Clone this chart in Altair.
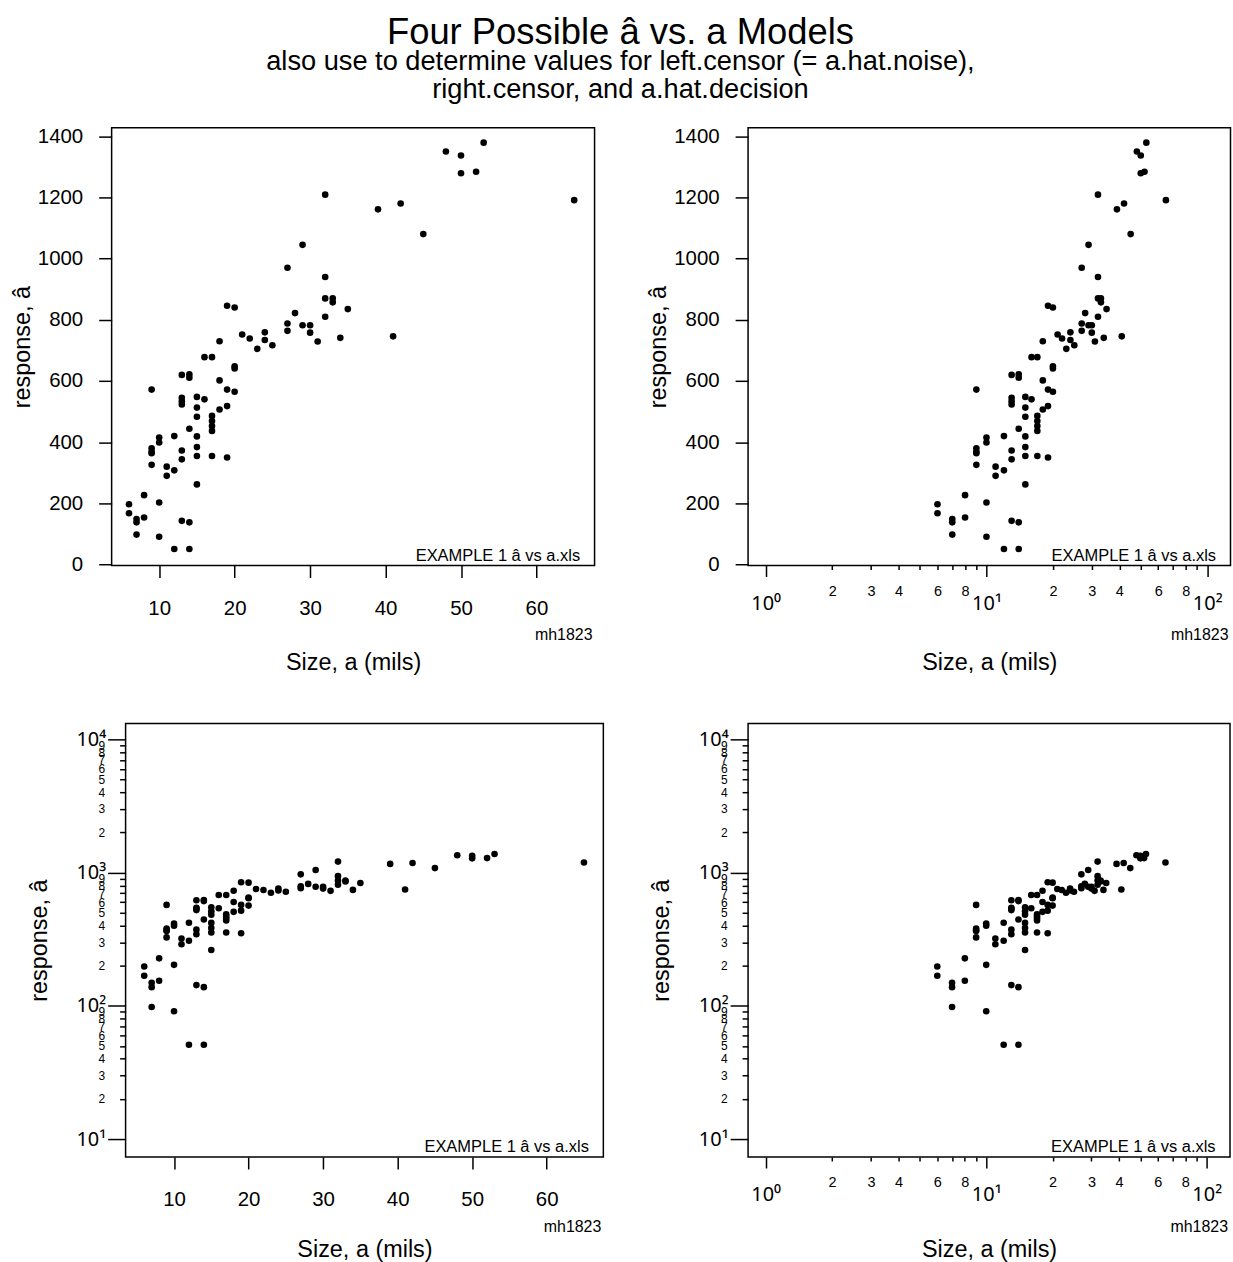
import altair as alt
import pandas as pd

# ---------------- data ----------------
SIZE_MILS = [6, 6, 7, 7, 7, 8, 8, 9, 9, 9, 9, 9, 10, 10, 10, 10, 11, 11, 12, 12, 12,
             13, 14, 14, 13, 13, 13, 13, 13, 13, 14, 14, 14, 15, 16, 15, 15, 15, 15,
             15, 15, 16, 17, 17, 17, 17, 17, 17, 18, 18, 18, 19, 20, 20, 20, 19, 20,
             19, 19, 21, 22, 23, 24, 24, 25, 27, 27, 27, 28, 29, 29, 30, 30, 31, 32,
             32, 32, 33, 33, 32, 34, 35, 39, 41, 42, 45, 48, 50, 50, 52, 53, 65]
RESPONSE = [197, 168, 149, 138, 98, 227, 154, 572, 380, 369, 364, 326, 415, 399, 203,
            91, 320, 290, 420, 308, 51, 620, 622, 611, 545, 534, 523, 373, 344, 143,
            138, 51, 444, 548, 540, 513, 483, 419, 384, 355, 262, 678, 678, 486, 469,
            453, 437, 355, 730, 602, 507, 846, 840, 648, 641, 572, 565, 518, 350, 752,
            739, 705, 759, 734, 717, 970, 788, 764, 822, 1045, 782, 782, 758, 729, 1209,
            940, 870, 870, 857, 810, 741, 835, 1161, 746, 1180, 1080, 1350, 1337, 1279,
            1284, 1379, 1191]

TITLE = "Four Possible â vs. a Models"
SUBTITLE = ["also use to determine values for left.censor (= a.hat.noise),",
            "right.censor, and a.hat.decision"]
X_TITLE = "Size, a (mils)"
Y_TITLE = "response, â"
NOTE_FILE = "EXAMPLE 1 â vs a.xls"
NOTE_ID = "mh1823"

LIN_X_TICKS = [10, 20, 30, 40, 50, 60]
LIN_Y_TICKS = [0, 200, 400, 600, 800, 1000, 1200, 1400]
LOG_X_MAJOR = [1, 10, 100]
LOG_X_MINOR = [2, 3, 4, 5, 6, 7, 8, 9, 20, 30, 40, 50, 60, 70, 80, 90]
LOG_X_MINOR_LABELED = [2, 3, 4, 6, 8, 20, 30, 40, 60, 80]
LOG_Y_MAJOR = [10, 100, 1000, 10000]
LOG_Y_MINOR = [20, 30, 40, 50, 60, 70, 80, 90, 200, 300, 400, 500, 600, 700, 800,
               900, 2000, 3000, 4000, 5000, 6000, 7000, 8000, 9000]
SUPERSCRIPTS = ["⁰", "¹", "²", "³", "⁴"]

FONT = "Liberation Sans"
SUP_FONT = "Noto Sans"

df = pd.DataFrame({"a": SIZE_MILS, "ahat": RESPONSE})

SUP_EXPR = "'10' + [" + ",".join("'%s'" % s for s in SUPERSCRIPTS) + "][round(log(datum.value)/LN10)]"
MINOR_X_EXPR = ("indexof([" + ",".join(str(v) for v in LOG_X_MINOR_LABELED) +
                "], datum.value) >= 0 ? substring(format(datum.value, '.0e'), 0, 1) : ''")
MINOR_Y_EXPR = "substring(format(datum.value, '.0e'), 0, 1)"

COMMON = dict(grid=False, domain=False, tickColor="black", tickWidth=1.5,
              labelColor="black", titleFont=FONT,
              titleFontWeight="normal", titleColor="black", labelOverlap=False,
              labelFlush=False)
TICK_FS = 20.5
TITLE_FS = 23.5


def x_axis(log, tpad, title_x=None):
    extra = {} if title_x is None else {"titleX": title_x}
    if log:
        return alt.Axis(orient="bottom", values=LOG_X_MAJOR, labelExpr=SUP_EXPR,
                        title=X_TITLE, tickSize=11, labelPadding=17, labelFontSize=20,
                        labelFont=SUP_FONT, titleFontSize=TITLE_FS, titlePadding=tpad,
                        **extra, **COMMON)
    return alt.Axis(orient="bottom", values=LIN_X_TICKS, format="d", title=X_TITLE,
                    tickSize=12, labelPadding=21, labelFontSize=TICK_FS, labelFont=FONT,
                    titleFontSize=TITLE_FS, titlePadding=tpad, **extra, **COMMON)


def x_axis_minor():
    return alt.Axis(orient="bottom", values=LOG_X_MINOR, labelExpr=MINOR_X_EXPR,
                    title=None, tickSize=4, labelPadding=15, labelFontSize=14.5,
                    labelFont=FONT, **COMMON)


def y_axis(log, off):
    if log:
        return alt.Axis(orient="left", values=LOG_Y_MAJOR, labelExpr=SUP_EXPR,
                        title=Y_TITLE, tickSize=18, labelPadding=2, labelFontSize=20,
                        labelFont=SUP_FONT, titleFontSize=TITLE_FS, titlePadding=24.5,
                        offset=off, **COMMON)
    return alt.Axis(orient="left", values=LIN_Y_TICKS, format="d", title=Y_TITLE,
                    tickSize=13, labelPadding=16, labelFontSize=TICK_FS, labelFont=FONT,
                    titleFontSize=TITLE_FS, titlePadding=3, offset=off, **COMMON)


def y_axis_minor(off):
    return alt.Axis(orient="left", values=LOG_Y_MINOR, labelExpr=MINOR_Y_EXPR,
                    title=None, tickSize=6, labelPadding=15, labelFontSize=12,
                    labelFont=FONT, offset=off, **COMMON)


def notes(w, h):
    f = alt.Chart(pd.DataFrame({"t": [NOTE_FILE]})).mark_text(
        align="right", baseline="alphabetic", fontSize=16.5, font=FONT, color="black"
    ).encode(text="t:N", x=alt.value(w - 14.5), y=alt.value(h - 5))
    m = alt.Chart(pd.DataFrame({"t": [NOTE_ID]})).mark_text(
        align="right", baseline="alphabetic", fontSize=16, font=FONT, color="black"
    ).encode(text="t:N", x=alt.value(w - 2), y=alt.value(h + 75))
    return [f, m]


def panel(w, h, xlog, ylog, xdom, ydom, tpad, inset=0):
    """w: width of the view; inset: the framed plot box starts `inset` px right of
    the view's left edge (the y axis is moved onto the box edge)."""
    if xlog:
        xs = alt.Scale(type="log", domain=xdom, nice=False)
    else:
        xs = alt.Scale(type="linear", domain=xdom, nice=False, zero=False)
    if ylog:
        ys = alt.Scale(type="log", domain=ydom, nice=False)
    else:
        ys = alt.Scale(type="linear", domain=ydom, nice=False, zero=False)
    off = -inset
    title_x = None if inset == 0 else inset + (w - inset) / 2
    base = alt.Chart(df)
    x_major = x_axis(xlog, tpad, title_x)
    y_major = y_axis(ylog, off)
    pts = base.mark_circle(size=44, color="black", opacity=1).encode(
        x=alt.X("a:Q", scale=xs, axis=x_major),
        y=alt.Y("ahat:Q", scale=ys, axis=y_major),
    )
    layers = [pts]
    if xlog or ylog:
        minor = base.mark_circle(size=44, opacity=0).encode(
            x=alt.X("a:Q", scale=xs, axis=x_axis_minor() if xlog else x_major),
            y=alt.Y("ahat:Q", scale=ys, axis=y_axis_minor(off) if ylog else y_major),
        )
        layers.append(minor)
    layers += notes(w, h)
    props = dict(width=w, height=h)
    if inset:
        frame = alt.Chart(pd.DataFrame({"t": [0]})).mark_rect(
            filled=False, color="black", strokeWidth=1.5
        ).encode(x=alt.value(inset), x2=alt.value(w), y=alt.value(0), y2=alt.value(h))
        layers.append(frame)
        props["view"] = alt.ViewBackground(stroke="transparent")
    ch = alt.layer(*layers).properties(**props)
    res = {}
    if xlog:
        res["x"] = "independent"
    if ylog:
        res["y"] = "independent"
    if res:
        ch = ch.resolve_axis(**res)
    return ch


TLH = 439.3
BLH = 435
BL_INSET = 14

tl = panel(484.5, TLH, False, False, [3.7, 67.7], [-3, 1428], 31.5)
tr = panel(484, TLH, True, False, [0.832, 127.5], [-3, 1428], 37)
bl = panel(479.3 + BL_INSET, BLH, False, True, [1.628, 67.6], [7.33, 13170], 27.75,
           inset=BL_INSET)
br = panel(483.5, BLH, True, True, [0.832, 127.5], [7.33, 13170], 33)

chart = alt.concat(
    tl, tr, bl, br, columns=2,
    spacing={"row": 46.7, "column": 40.5},
).properties(
    title=alt.TitleParams(
        text=TITLE, subtitle=SUBTITLE, fontSize=36.5, subtitleFontSize=27.3,
        font=FONT, subtitleFont=FONT, fontWeight="normal", color="black",
        subtitleColor="black", anchor="middle", offset=22, subtitlePadding=-4,
        subtitleLineHeight=28.5),
    padding={"left": 9, "top": 13, "right": 1, "bottom": 0},
    background="white",
).configure_view(
    stroke="black", strokeWidth=1.5
)

chart.save("out.html", embed_options={"renderer": "svg", "actions": False})
